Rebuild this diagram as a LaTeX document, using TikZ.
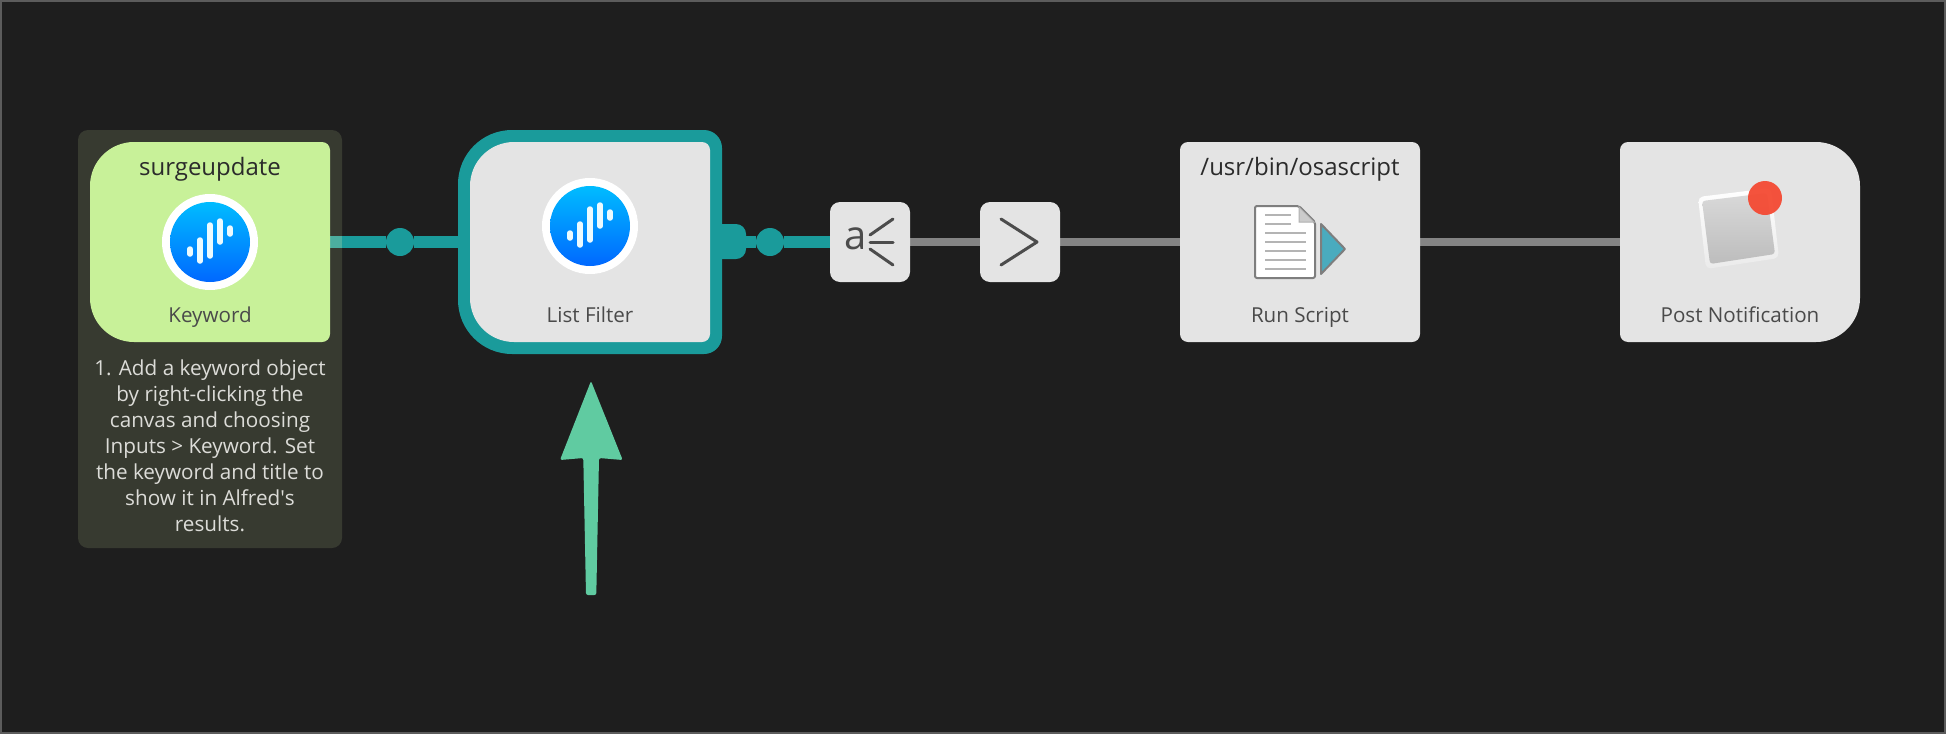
\documentclass[tikz,border=0pt]{standalone}
\usepackage{fontspec}
\setmainfont{Open Sans}
\definecolor{bgc}{HTML}{1E1E1E}
\definecolor{framec}{HTML}{5C5C5C}
\definecolor{notec}{HTML}{373A30}
\definecolor{kwc}{HTML}{C8F199}
\definecolor{graybox}{HTML}{E4E4E4}
\definecolor{teal}{HTML}{1A9B9B}
\definecolor{tealpale}{HTML}{4CAE9F}
\definecolor{wire}{HTML}{848484}
\definecolor{inkc}{HTML}{2B2B2B}
\definecolor{subc}{HTML}{4A4A4A}
\definecolor{notetext}{HTML}{DCDCD8}
\definecolor{arrowc}{HTML}{60CBA1}
\definecolor{iconhi}{HTML}{00BCFF}
\definecolor{iconlo}{HTML}{0068FF}
\definecolor{glyphc}{HTML}{4C4C4C}
\definecolor{tri}{HTML}{4AABBE}
\definecolor{docline}{HTML}{B4B4B4}
\definecolor{docedge}{HTML}{7E7E7E}
\definecolor{redc}{HTML}{F44A33}
\newcommand{\cornerbox}[6]{%
  \fill[#6] (#1.north) [rounded corners=#3pt] -- (#1.north east)
    [rounded corners=#4pt] -- (#1.south east)
    [rounded corners=#5pt] -- (#1.south west)
    [rounded corners=#2pt] -- (#1.north west) [sharp corners] -- cycle;}
\newcommand{\alfredicon}[2]{%
  \fill[white] (#1,#2) circle[radius=48pt];
  \shade[top color=iconhi,bottom color=iconlo] (#1,#2) circle[radius=40pt];
  \begin{scope}[shift={(#1,#2)},line width=5.5pt,line cap=round,draw=white!92!iconhi]
    \draw (-20,7) -- (-20,12);
    \draw (-10,-2) -- (-10,19);
    \draw (0,-17) -- (0,14);
    \draw (10,-21) -- (10,0);
    \draw (20,-14) -- (20,-8);
  \end{scope}}
\tikzset{
  x=1pt,y=-1pt,
  slot/.style={inner sep=0pt,outer sep=0pt,minimum width=240pt,minimum height=200pt},
  smallslot/.style={inner sep=0pt,outer sep=0pt,minimum width=80pt,minimum height=80pt},
  joint/.style={circle,fill=teal,inner sep=0pt,minimum size=28pt},
  tealwire/.style={draw=teal,line width=12pt},
  graywire/.style={draw=wire,line width=8pt},
  titletext/.style={font=\fontsize{24}{28}\selectfont,text=inkc,inner sep=0pt,anchor=base},
  subtext/.style={font=\fontsize{20.6}{24}\selectfont,text=subc,inner sep=0pt,anchor=base},
  notetextstyle/.style={font=\fontsize{20.7}{26}\selectfont,text=notetext,align=center,inner sep=0pt},
  glyphline/.style={draw=glyphc,line width=3pt,line cap=round,line join=round},
}
\begin{document}
\begin{tikzpicture}
\useasboundingbox (0,0) rectangle (1946,734);
\fill[bgc] (0,0) rectangle (1946,734);
\draw[framec,line width=2pt] (1,1) rectangle (1945,733);

% placement of the objects
\node[slot] (kw) at (210,242) {};
\node[slot] (lf) at (590,242) {};
\node[smallslot] (split) at (870,242) {};
\node[smallslot] (gt) at (1020,242) {};
\node[slot] (rs) at (1300,242) {};
\node[slot] (pn) at (1740,242) {};
\node[joint] (d1) at (400,242) {};
\node[joint] (d2) at (770,242) {};

% note behind the keyword object
\fill[notec,rounded corners=10pt] (78,130) rectangle (342,548);

% connectors
\draw[tealwire] (kw.east) -- (d1) -- (lf.west);
\draw[tealwire] (lf.east) -- (d2) -- (split.west);
\draw[draw=tealpale,line width=12pt] (kw.east) -- ++(12,0);
\draw[graywire] (split.east) -- (gt.west);
\draw[graywire] (gt.east) -- (rs.west);
\draw[graywire] (rs.east) -- (pn.west);

% selection outline and its port
\fill[teal,rounded corners=10pt] (700,224) -- (746,224) -- (746,259) -- (700,259) [sharp corners] -- cycle;
\fill[teal] (458,130) ++(54,0) [rounded corners=18pt] -- (722,130) -- (722,354) [rounded corners=54pt] -- (458,354) -- (458,130) [sharp corners] -- cycle;

% object bodies
\cornerbox{kw}{44}{8}{8}{44}{kwc}
\cornerbox{lf}{44}{8}{8}{44}{graybox}
\cornerbox{rs}{8}{8}{8}{8}{graybox}
\cornerbox{pn}{8}{44}{44}{8}{graybox}
\fill[graybox,rounded corners=10pt] (split.north west) rectangle (split.south east);
\fill[graybox,rounded corners=10pt] (gt.north west) rectangle (gt.south east);

% icons
\alfredicon{210}{242}
\alfredicon{590}{226}

% split glyph
\node[inner sep=0pt,font=\fontsize{40}{40}\selectfont,text=glyphc] (alabel) at (856,239) {a};
\draw[glyphline] (870,235) -- (893,219);
\draw[glyphline] (870,242) -- (893,242);
\draw[glyphline] (870,249) -- (893,265);
% greater-than glyph
\draw[glyphline] (1001,219) -- (1037,242) -- (1001,265);

% script document icon
\draw[docedge,line width=2pt,fill=white,rounded corners=2pt,line join=round]
  (1255,206) -- (1299,206) -- (1315,222) -- (1315,278) -- (1255,278) -- cycle;
\draw[docedge!60,fill=docline!70,line width=1pt] (1299,207) -- (1314,222) -- (1299,222) -- cycle;
\foreach \yy in {215,224} \draw[docline,line width=2pt] (1265,\yy) -- (1291,\yy);
\foreach \yy in {233,242,251,260,269} \draw[docline,line width=2pt] (1265,\yy) -- (1306,\yy);
\draw[docedge,line width=2pt,fill=tri,line join=round] (1321,224) -- (1345,249) -- (1321,274) -- cycle;

% notification icon
\shade[top color=white,bottom color=white!92!black,rounded corners=5pt] (1698,197) -- (1771,188) -- (1779,258) -- (1706,269) -- cycle;
\shade[top color=black!15,bottom color=black!26,rounded corners=3pt] (1702,201) -- (1767,193) -- (1775,254) -- (1710,264) -- cycle;
\fill[redc,opacity=.95] (1765,198) circle[radius=17pt];

% labels
\node[titletext] (t1) at (210,175) {surgeupdate};
\node[subtext] (s1) at (210,322) {Keyword};
\node[subtext] (s2) at (590,322) {List Filter};
\node[titletext] (t3) at (1300,175) {/usr/bin/osascript};
\node[subtext] (s3) at (1300,322) {Run Script};
\node[subtext] (s4) at (1740,322) {Post Notification};
\node[notetextstyle] (n1) at (210,446) {1. Add a keyword object\\by right-clicking the\\canvas and choosing\\Inputs > Keyword. Set\\the keyword and title to\\show it in Alfred\textquotesingle s\\results.};

% green arrow
\fill[arrowc,rounded corners=2pt] (591,381) -- (622.7,460) -- (599,458) -- (596.3,595) -- (586,595) -- (583.3,458) -- (560,460) -- cycle;
\end{tikzpicture}
\end{document}
